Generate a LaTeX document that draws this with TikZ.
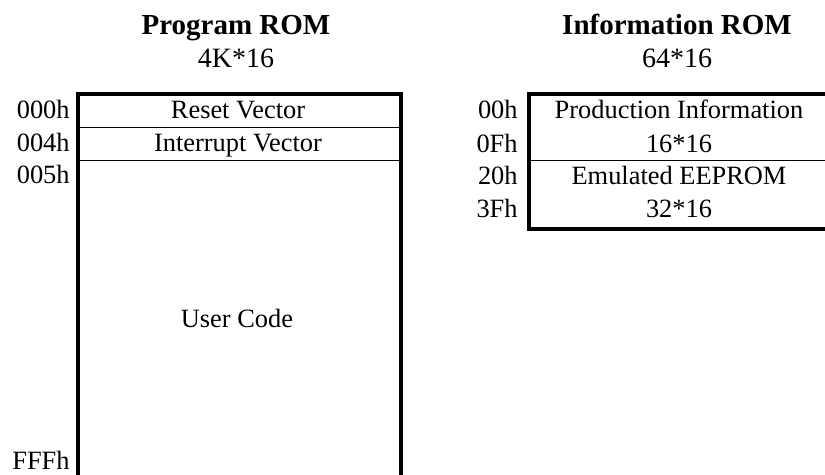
\documentclass[tikz,border=0pt]{standalone}
\usepackage{fontspec}
\setmainfont{Liberation Serif}
\usetikzlibrary{positioning}

\begin{document}
\begin{tikzpicture}[x=0.5pt,y=-0.5pt,
    every node/.style={inner sep=0pt,font=\fontsize{13.2}{15}\selectfont},
    title/.style={anchor=base,font=\fontsize{14.5}{17}\selectfont\bfseries},
    size/.style={anchor=base,font=\fontsize{14}{17}\selectfont},
    addr/.style={anchor=base east},
    cell/.style={anchor=base},
    frame/.style={line width=2pt},
    divider/.style={line width=0.7pt}]
    \useasboundingbox (0,0) rectangle (825,475);
    \clip (0,0) rectangle (825,475);

    % program ROM
    \node[title] (progtitle) at (236,35) {Program ROM};
    \node[size] (progsize) at (236,68) {4K*16};
    \draw[frame] (77.5,490) |- (401,94) -- (401,490);
    \draw[divider] (77.5,127.7) -- (401,127.7);
    \draw[divider] (77.5,160.5) -- (401,160.5);
    \node[addr] (a000) at (70,119) {000h};
    \node[addr] (a004) at (70,152) {004h};
    \node[addr] (a005) at (70,184) {005h};
    \node[addr] (afff) at (70,470) {FFFh};
    \node[cell] (reset) at (238,119) {Reset Vector};
    \node[cell] (irq) at (238,152) {Interrupt Vector};
    \node[cell] (user) at (237,328) {User Code};

    % information ROM
    \node[title] (infotitle) at (677,35) {Information ROM};
    \node[size] (infosize) at (677,68) {64*16};
    \draw[frame] (528.5,94) rectangle (832,229.5);
    \draw[divider] (528.5,160.7) -- (832,160.7);
    \node[addr] (b00) at (518,119) {00h};
    \node[addr] (b0f) at (518,153) {0Fh};
    \node[addr] (b20) at (518,185) {20h};
    \node[addr] (b3f) at (518,218) {3Fh};
    \node[cell] (prod) at (679,119) {Production Information};
    \node[cell] (prodsize) at (679,153) {16*16};
    \node[cell] (eeprom) at (679,185) {Emulated EEPROM};
    \node[cell] (eepromsize) at (679,218) {32*16};
\end{tikzpicture}
\end{document}
